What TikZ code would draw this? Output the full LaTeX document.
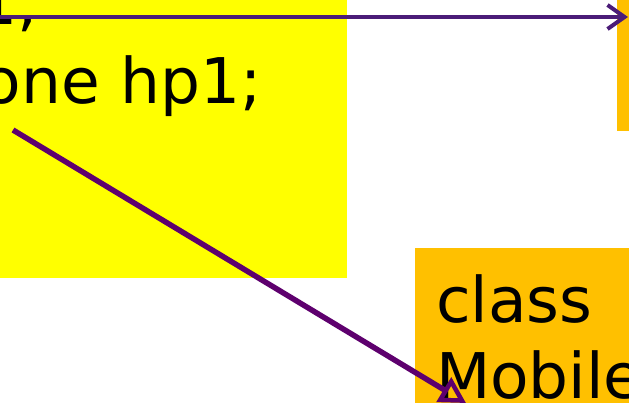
\documentclass[tikz,border=0pt]{standalone}
\usepackage{fontspec}
\setmainfont{DejaVu Sans}
\usetikzlibrary{arrows.meta}
\definecolor{boxyellow}{HTML}{FFFF00}
\definecolor{boxorange}{HTML}{FFC000}
\definecolor{arrowA}{HTML}{4B1C78}
\definecolor{arrowB}{HTML}{5E006E}
\tikzset{
  codetext/.style={inner sep=0pt,outer sep=0pt,anchor=base west,align=left,
    font=\fontsize{63}{76}\selectfont},
  assoc/.style={draw=arrowA,line width=4pt,-{Straight Barb[length=17pt,width=24pt,line width=4pt]}},
  inherit/.style={draw=arrowB,line width=5.5pt,-{Triangle[open,length=26pt,width=28pt,line width=4.5pt]}}
}
\begin{document}
\begin{tikzpicture}[x=1pt,y=-1pt]
\clip (0,0) rectangle (629,403);
\fill[white] (0,0) rectangle (629,403);
% boxes
\fill[boxyellow] (-10,-10) rectangle (347,278);
\fill[boxorange] (617,-10) rectangle (640,131);
\fill[boxorange] (415,248) rectangle (640,420);
% texts
\node[codetext] (t1) at (-23,25) {1;};
\node[codetext] (t2) at (-17,104) {one hp1;};
\node[codetext] (t3) at (436,322) {class};
\node[codetext] (t4) at (436,398) {Mobile};
% connectors
\coordinate (a1s) at (-10,17);
\coordinate (a1e) at (628,17);
\coordinate (a2s) at (13,130);
\coordinate (a2e) at (466,403);
\draw[assoc] (a1s) -- (a1e);
\draw[inherit] (a2s) -- (a2e);
\end{tikzpicture}
\end{document}
